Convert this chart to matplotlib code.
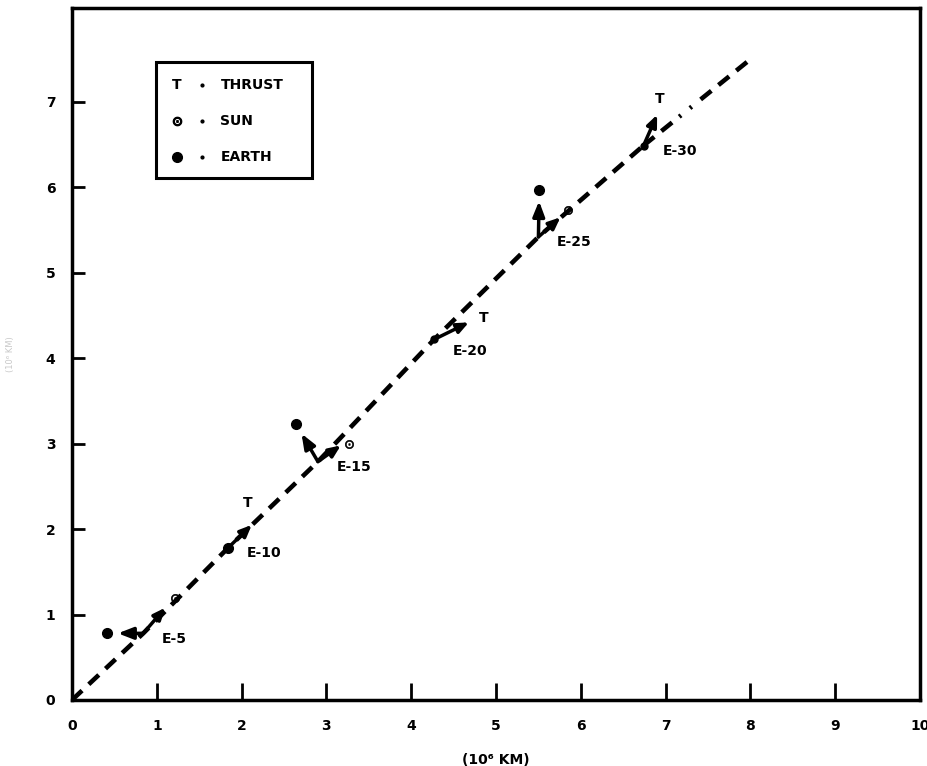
import matplotlib
matplotlib.use("Agg")
import matplotlib.pyplot as plt
from matplotlib.patches import Rectangle

# ---- data (10^6 km) ----
traj_x = [0.0, 0.84, 1.84, 2.90, 4.27, 5.50, 6.74, 8.0]
traj_y = [0.0, 0.78, 1.78, 2.79, 4.22, 5.42, 6.49, 7.5]

epoch_labels = ["E-5", "E-10", "E-15", "E-20", "E-25", "E-30"]
epoch_x = [0.84, 1.84, 2.90, 4.27, 5.50, 6.74]
epoch_y = [0.78, 1.78, 2.79, 4.22, 5.42, 6.49]

# Earth direction markers (None = no marker)
earth_x = [0.41, None, 2.64, None, 5.51, None]
earth_y = [0.78, None, 3.23, None, 5.97, None]

# Sun direction markers
sun_x = [1.22, None, 3.27, None, 5.85, None]
sun_y = [1.19, None, 3.00, None, 5.74, None]
sun_tip_x = [1.10, None, 3.17, None, 5.76, None]
sun_tip_y = [1.08, None, 2.98, None, 5.65, None]

# Thrust direction arrows and "T" labels
thrust_tip_x = [None, 2.12, None, 4.68, None, 6.90]
thrust_tip_y = [None, 2.05, None, 4.42, None, 6.85]
thrust_lab_x = [None, 2.07, None, 4.85, None, 6.93]
thrust_lab_y = [None, 2.31, None, 4.47, None, 7.03]

# junction dots
dot_epochs = ["E-10", "E-20", "E-30"]

xticks = list(range(0, 11))
yticks = list(range(0, 8))

fp = dict(family="DejaVu Sans", weight="bold")

fig = plt.figure(figsize=(9.28, 7.66), dpi=100)
ax = fig.add_axes([0.0776, 0.0862, 0.9138, 0.9034])
ax.set_xlim(0, 10)
ax.set_ylim(0, 8.1)

# trajectory
ax.plot(traj_x[:-1], traj_y[:-1], color="black", lw=3.3,
        dashes=(3, 2), solid_capstyle="butt", dash_capstyle="butt")
ax.plot(traj_x[-2:], traj_y[-2:], color="black", lw=3.3,
        dashes=(3, 2, 3, 2, 0.5, 2.5, 0.5, 2.5, 3, 2, 3, 2, 3, 2),
        dash_capstyle="butt")

arrow_kw = dict(arrowstyle="-|>,head_length=0.7,head_width=0.3",
                color="black", lw=2.5, shrinkA=0, shrinkB=0)

for i, lab in enumerate(epoch_labels):
    jx, jy = epoch_x[i], epoch_y[i]
    if earth_x[i] is not None:
        ax.plot(earth_x[i], earth_y[i], "o", color="black", ms=7)
        ax.annotate("", xy=(earth_x[i], earth_y[i]), xytext=(jx, jy),
                    arrowprops=dict(arrowstyle="-|>,head_length=0.9,head_width=0.35",
                                    color="black", lw=2.5, shrinkA=0, shrinkB=8))
    if sun_x[i] is not None:
        ax.plot(sun_x[i], sun_y[i], marker=r"$\odot$", color="black", ms=6, mew=0.5)
        ax.annotate("", xy=(sun_tip_x[i], sun_tip_y[i]), xytext=(jx, jy),
                    arrowprops=arrow_kw)
    if thrust_tip_x[i] is not None:
        ax.annotate("", xy=(thrust_tip_x[i], thrust_tip_y[i]), xytext=(jx, jy),
                    arrowprops=arrow_kw)
        ax.text(thrust_lab_x[i], thrust_lab_y[i], "T", ha="center", va="center",
                fontsize=10, **fp)
    if lab in dot_epochs:
        ax.plot(jx, jy, "o", color="black", ms=7 if lab == "E-10" else 5)
    dy = -8 if lab == "E-20" else -4
    ax.annotate(lab, xy=(jx, jy), xytext=(13.5, dy), textcoords="offset points",
                ha="left", va="center", fontsize=10, **fp)

# legend box
ax.add_patch(Rectangle((0.099, 0.754), 0.184, 0.168, transform=ax.transAxes,
                       fill=False, lw=2.2, color="black"))
rows = [("T", "THRUST"), ("sun", "SUN"), ("earth", "EARTH")]
row_y = [0.889, 0.837, 0.785]
for (sym, name), ry in zip(rows, row_y):
    if sym == "T":
        ax.text(0.124, ry, "T", transform=ax.transAxes, ha="center", va="center",
                fontsize=10, **fp)
    elif sym == "sun":
        ax.plot(0.124, ry, marker=r"$\odot$", color="black", ms=6, transform=ax.transAxes)
    else:
        ax.plot(0.124, ry, "o", color="black", ms=7, transform=ax.transAxes)
    ax.plot(0.153, ry, "o", color="black", ms=2, transform=ax.transAxes)
    ax.text(0.175, ry, name, transform=ax.transAxes, ha="left", va="center",
            fontsize=10, **fp)

# axes styling
for s in ax.spines.values():
    s.set_linewidth(2.5)
ax.set_xticks(xticks)
ax.set_yticks(yticks)
ax.tick_params(axis="x", direction="in", length=12, width=2, pad=14, labelsize=10)
ax.tick_params(axis="y", direction="in", length=9, width=2, pad=12, labelsize=10)
for t in ax.get_xticklabels() + ax.get_yticklabels():
    t.set_fontweight("bold")
ax.set_xlabel("(10\u2076 KM)", fontsize=10, labelpad=14, **fp)
ax.set_ylabel("(10\u2076 KM)", fontsize=6, color="#c8c8c8", labelpad=22)

fig.savefig("out.png", dpi=100)
